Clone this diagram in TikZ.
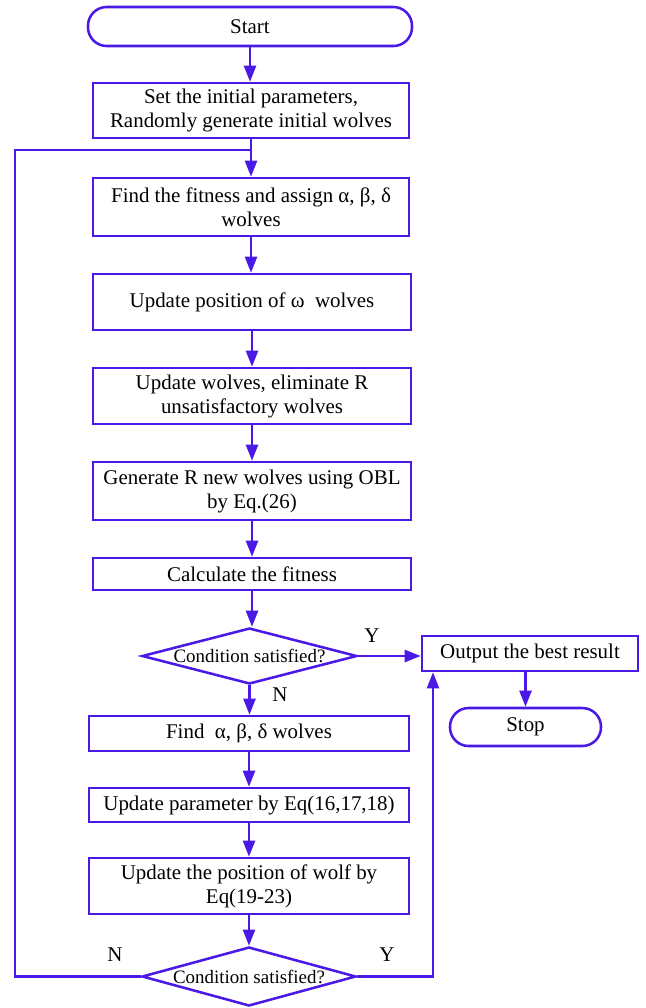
\documentclass[tikz,border=0pt]{standalone}
\usepackage{fontspec}
\setmainfont{Liberation Serif}
\usetikzlibrary{arrows.meta,shapes.geometric}
\definecolor{flow}{RGB}{75,25,230}
\begin{document}
\begin{tikzpicture}[x=0.75pt,y=-0.75pt,
  every node/.style={font=\fontsize{15.7}{18}\selectfont},
  proc/.style={draw=flow, line width=1.9pt, rectangle, align=center, inner sep=0pt},
  term/.style={proc, rounded corners=14pt},
  cond/.style={draw=flow, line width=1.9pt, diamond, aspect=3.84, inner sep=0pt,
    font=\fontsize{14.2}{17}\selectfont},
  link/.style={draw=flow, line width=1.8pt, -{Triangle[length=12pt,width=9pt]}},
  wire/.style={draw=flow, line width=1.8pt}]
\useasboundingbox (0,0) rectangle (646,1008);

% main column
\node[term, minimum width=243pt, minimum height=29.25pt] (start) at (250,26.5) {Start};
\node[proc, minimum width=237pt, minimum height=41.25pt] (init) at (251,110.5)
  {Set the initial parameters,\\Randomly generate initial wolves};
\node[proc, minimum width=237pt, minimum height=43.5pt] (fit) at (251,207)
  {Find the fitness and assign α, β, δ\\wolves};
\node[proc, minimum width=238.5pt, minimum height=42pt] (omega) at (252,302)
  {Update position of ω\ \ wolves};
\node[proc, minimum width=238.5pt, minimum height=42pt] (elim) at (252,396)
  {Update wolves, eliminate R\\unsatisfactory wolves};
\node[proc, minimum width=238.5pt, minimum height=43.5pt] (obl) at (252,491)
  {Generate R new wolves using OBL\\by Eq.(26)};
\node[proc, minimum width=238.5pt, minimum height=24pt] (calc) at (252,574)
  {Calculate the fitness};
\node[cond, minimum width=161.25pt, minimum height=42pt] (c1) at (249.5,656)
  {Condition satisfied?};
\node[proc, minimum width=240pt, minimum height=26.25pt] (abd) at (249,733.5)
  {Find\ \ α, β, δ wolves};
\node[proc, minimum width=240pt, minimum height=25.5pt] (par) at (249,805)
  {Update parameter by Eq(16,17,18)};
\node[proc, minimum width=240pt, minimum height=42pt] (pos) at (249,886)
  {Update the position of wolf by\\Eq(19-23)};
\node[cond, minimum width=160.5pt, minimum height=44.25pt] (c2) at (249,976.5)
  {Condition satisfied?};

% exit branch
\node[proc, minimum width=162pt, minimum height=26.25pt] (out) at (530,653.5)
  {Output the best result};
\node[term, minimum width=113.25pt, minimum height=28.5pt] (stop) at (525.5,727) {Stop};

% branch labels
\node (ly1) at (372,636) {Y};
\node (ln1) at (280,695) {N};
\node (ln2) at (115,955) {N};
\node (ly2) at (387,955) {Y};

% helper coordinates for the loop and the return line
\coordinate (loopy) at (0,150);
\coordinate (lx) at (15,150);
\coordinate (rx) at (433,977);

% connectors
\draw[link] (start.south) -- (start.south |- init.north);
\draw[link] (init.south) -- (init.south |- fit.north);
\draw[link] (fit.south) -- (fit.south |- omega.north);
\draw[link] (omega.south) -- (omega.south |- elim.north);
\draw[link] (elim.south) -- (elim.south |- obl.north);
\draw[link] (obl.south) -- (obl.south |- calc.north);
\draw[link] (calc.south) -- (calc.south |- c1.north);
\draw[link] (c1.east) -- (c1.east -| out.west);
\draw[link] (c1.south) -- (c1.south |- abd.north);
\draw[link] (abd.south) -- (abd.south |- par.north);
\draw[link] (par.south) -- (par.south |- pos.north);
\draw[link] (pos.south) -- (pos.south |- c2.north);
\draw[link] (out.south -| stop.north) -- (stop.north);
\draw[wire] (c2.west) -| (lx) -- (init.south |- loopy);
\draw[link] (c2.east) -| (out.south -| rx);
\end{tikzpicture}
\end{document}
